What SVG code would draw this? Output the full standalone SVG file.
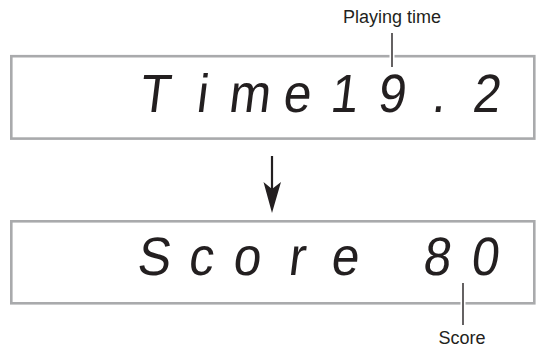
<svg xmlns="http://www.w3.org/2000/svg" width="541" height="347" viewBox="0 0 541 347">
<style>
.box{fill:#fff;stroke:#a9aaac;stroke-width:2.6}
.lcd{font-family:"Liberation Sans",Arial,sans-serif;font-size:54px;fill:#231f20;text-anchor:middle}
.lbl{font-family:"Liberation Sans",Arial,sans-serif;font-size:18px;fill:#231f20;text-anchor:middle}
.lead{stroke:#231f20;stroke-width:1.4}
.gap{stroke:#fff;stroke-width:5}
</style>
<rect width="541" height="347" fill="#fff"/>
<g id="display-time">
<rect class="box" x="11.3" y="56.2" width="523" height="82.4"/>
<text class="lcd" transform="translate(0,112) skewX(-7) scale(0.92,1)" x="167 218.5 270 321.5 373 424.6 476.1 527.6" y="0">Time19.2</text>
</g>
<g id="display-score">
<rect class="box" x="11.3" y="221.3" width="523" height="82"/>
<text class="lcd" transform="translate(0,275) skewX(-7) scale(0.92,1)" x="166.1 217.2 267.2 321.5 373.7 473.7 525.9" y="0">Score80</text>
</g>
<g id="label-playing-time">
<text class="lbl" x="392" y="22.5">Playing time</text>
</g>
<g id="label-score">
<text class="lbl" x="462" y="343.5">Score</text>
</g>
<g id="connectors">
<line class="gap" x1="392" y1="50" x2="392" y2="62"/>
<line class="lead" x1="392" y1="33" x2="392" y2="67"/>
<line class="gap" x1="463" y1="297" x2="463" y2="309"/>
<line class="lead" x1="463" y1="283" x2="463" y2="325"/>
<line stroke="#231f20" stroke-width="2.2" x1="272" y1="156" x2="272" y2="192"/>
<path d="M263.5,182 L272,189 L281,182 L272,213 Z" fill="#231f20"/>
</g>
</svg>
